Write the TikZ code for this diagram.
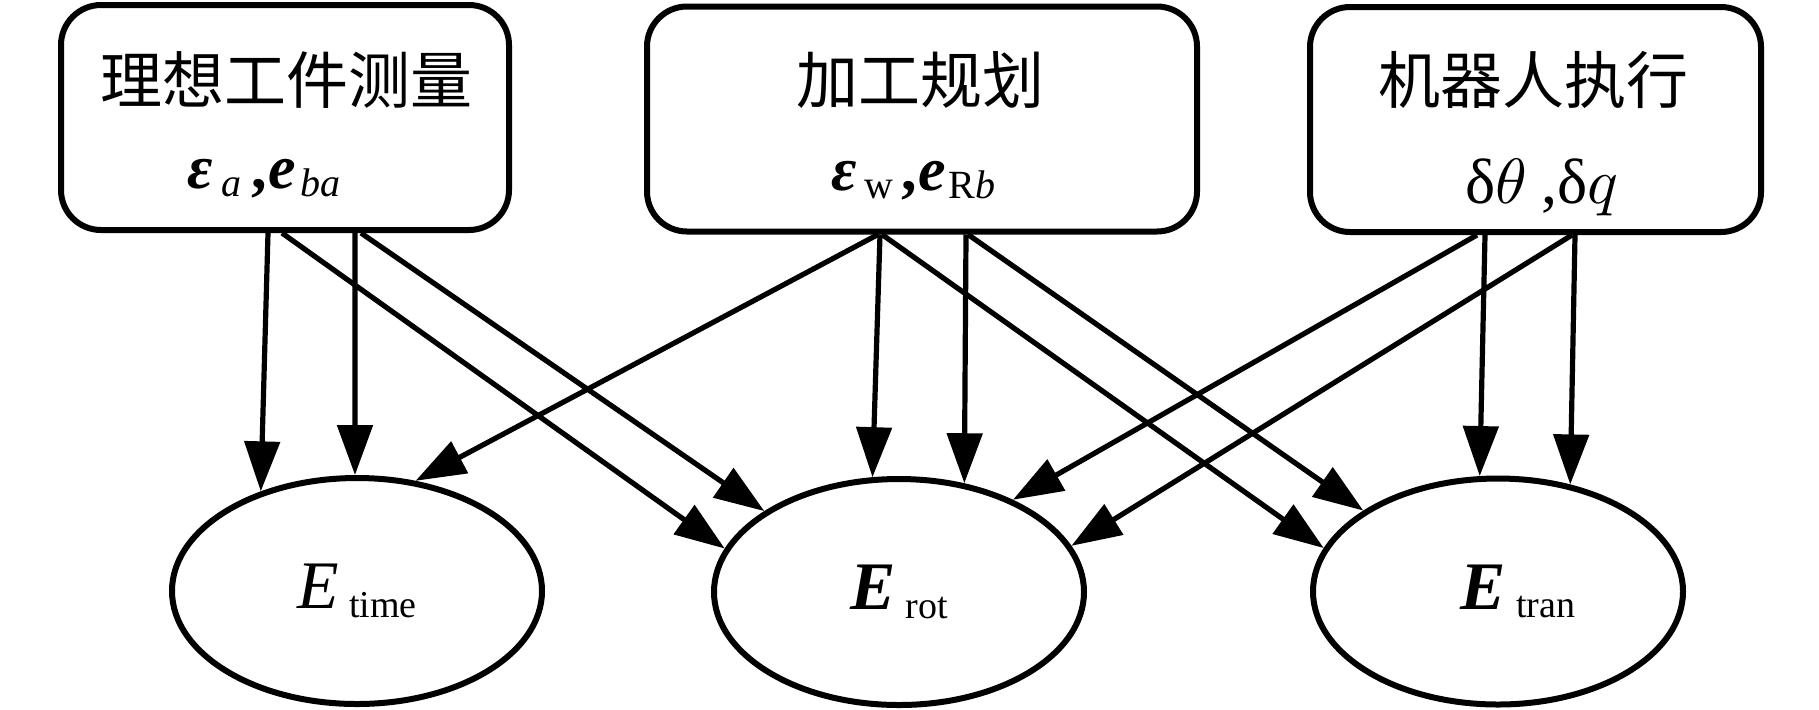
\documentclass[tikz,border=0pt]{standalone}
\DeclareFontShape{OML}{cmm}{m}{it}{<->cmmi10}{}
\usepackage{fontspec}
\setmainfont{Liberation Serif}
\newfontfamily\zhfont{Noto Sans CJK SC}
\usetikzlibrary{arrows.meta,shapes.geometric}
\newcommand{\fsz}[1]{\fontsize{#1}{#1}\selectfont}
\begin{document}
\begin{tikzpicture}[x=0.5pt,y=-0.5pt,
  boxnode/.style={draw, line width=3pt, rounded corners=20pt, inner sep=0pt, minimum height=112.5pt},
  ellnode/.style={ellipse, draw, line width=3pt, inner sep=0pt, minimum width=185pt, minimum height=113pt},
  zh/.style={font=\zhfont\fsz{31pt}, inner sep=0pt},
  mathline/.style={anchor=base, inner sep=0pt},
  arr/.style={line width=2.6pt, -{Triangle[length=25pt,width=17.5pt]}}]
\useasboundingbox (0,0) rectangle (1819,709);

% boxes
\node[boxnode, minimum width=224pt] (box1) at (285,117.5) {};
\node[boxnode, minimum width=275pt] (box2) at (922,119) {};
\node[boxnode, minimum width=225.5pt] (box3) at (1535.5,119.5) {};

\node[zh] (t1) at (286.5,80) {理想工件测量};
\node[zh] (t2) at (920,80) {加工规划};
\node[zh] (t3) at (1533,80) {机器人执行};

\node[mathline] (m1) at (264,188) {{\fsz{31pt}\bfseries\itshape ε}\kern4pt\raisebox{-4pt}{\fsz{20pt}\itshape a}\kern5pt{\fsz{31pt}\bfseries ,}\kern1pt{\fsz{31pt}\bfseries\itshape e}\kern2pt\raisebox{-4pt}{\fsz{20pt}\itshape ba}};
\node[mathline] (m2) at (913,190) {{\fsz{31pt}\bfseries\itshape ε}\kern4pt\raisebox{-4pt}{\fsz{20pt}w}\kern4pt{\fsz{31pt}\bfseries ,}\kern1pt{\fsz{31pt}\bfseries\itshape e}\kern1pt\raisebox{-4pt}{\fsz{20pt}R\itshape b}};
\node[mathline] (m3) at (1542,203) {\fsz{32pt}δ$\theta$\kern7pt,δ$q$};

% ellipses
\node[ellnode] (Et) at (357,591) {{\fsz{34pt}\itshape E}\kern5pt\raisebox{-4.2pt}{\fsz{19pt}time}};
\node[ellnode] (Er) at (899,592) {{\fsz{34pt}\bfseries\itshape E}\kern5pt\raisebox{-4.2pt}{\fsz{19pt}rot}};
\node[ellnode] (Etr) at (1498,591.5) {\hspace*{20pt}{\fsz{34pt}\bfseries\itshape E}\kern5pt\raisebox{-4.2pt}{\fsz{19pt}tran}};

% arrows from box1
\draw[arr] ([xshift=-8.5pt]box1.south) -- (Et.134.2);
\draw[arr] ([xshift=35pt]box1.south) -- (Et.91);
\draw[arr] ([xshift=-1.5pt]box1.south) -- (Er.166.1);
\draw[arr] ([xshift=38pt]box1.south) -- (Er.149.3);
% arrows from box2
\draw[arr] ([xshift=-22pt]box2.south) -- (Et.62.3);
\draw[arr] ([xshift=-21pt]box2.south) -- (Er.103.1);
\draw[arr] ([xshift=22pt]box2.south) -- (Er.59);
\draw[arr] ([xshift=-20pt]box2.south) -- (Etr.166.9);
\draw[arr] ([xshift=23pt]box2.south) -- (Etr.149.8);
% arrows from box3
\draw[arr] ([xshift=-29.25pt]box3.south) -- (Er.39);
\draw[arr] ([xshift=18.25pt]box3.south) -- (Er.15.6);
\draw[arr] ([xshift=-25.25pt]box3.south) -- (Etr.99.4);
\draw[arr] ([xshift=19.75pt]box3.south) -- (Etr.56);
\end{tikzpicture}
\end{document}
